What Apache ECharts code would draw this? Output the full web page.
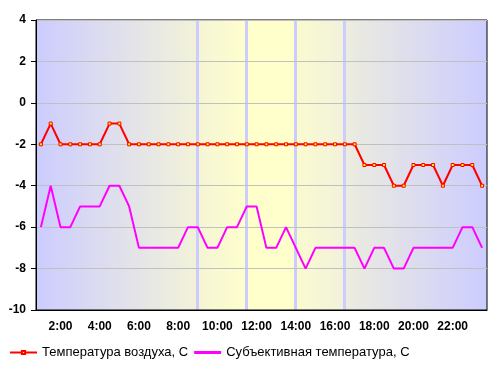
<!DOCTYPE html>
<html>
<head>
<meta charset="utf-8">
<script src="https://cdn.jsdelivr.net/npm/echarts@6/dist/echarts.min.js"></script>
<style>
  html, body { margin: 0; padding: 0; background: #fff; }
  #chart { width: 499px; height: 366px; }
</style>
</head>
<body>
<div id="chart"></div>
<script>
// half-hour readings, 1:00 .. 23:30
const times = [
  '1:00', '1:30', '2:00', '2:30', '3:00', '3:30', '4:00', '4:30', '5:00', '5:30',
  '6:00', '6:30', '7:00', '7:30', '8:00', '8:30', '9:00', '9:30', '10:00', '10:30',
  '11:00', '11:30', '12:00', '12:30', '13:00', '13:30', '14:00', '14:30', '15:00', '15:30',
  '16:00', '16:30', '17:00', '17:30', '18:00', '18:30', '19:00', '19:30', '20:00', '20:30',
  '21:00', '21:30', '22:00', '22:30', '23:00', '23:30'
]
const airTemp = [
  -2, -1, -2, -2, -2, -2, -2, -1, -1, -2,
  -2, -2, -2, -2, -2, -2, -2, -2, -2, -2,
  -2, -2, -2, -2, -2, -2, -2, -2, -2, -2,
  -2, -2, -2, -3, -3, -3, -4, -4, -3, -3,
  -3, -4, -3, -3, -3, -4
]
const feelsTemp = [
  -6, -4, -6, -6, -5, -5, -5, -4, -4, -5,
  -7, -7, -7, -7, -7, -6, -6, -7, -7, -6,
  -6, -5, -5, -7, -7, -6, -7, -8, -7, -7,
  -7, -7, -7, -8, -7, -7, -8, -8, -7, -7,
  -7, -7, -7, -6, -6, -7
]
const seriesNames = ['Температура воздуха, С', 'Субъективная температура, С']

const font = 'Arial, "Liberation Sans", sans-serif'
const chart = echarts.init(document.getElementById('chart'))

// background: blue at night, yellow by day, thin lavender stripes at 9:00, 11:30, 14:00, 16:30
const stripe = '#ccccff'
const bg = new echarts.graphic.LinearGradient(0, 0, 1, 0, [
  { offset: 0, color: '#ccccff' },
  { offset: 0.3548, color: '#f2f2da' },
  { offset: 0.3549, color: stripe },
  { offset: 0.3614, color: stripe },
  { offset: 0.3615, color: '#f5f5d5' },
  { offset: 0.4633, color: '#fefecd' },
  { offset: 0.4634, color: stripe },
  { offset: 0.4701, color: stripe },
  { offset: 0.4702, color: '#ffffcc' },
  { offset: 0.5720, color: '#ffffcc' },
  { offset: 0.5721, color: stripe },
  { offset: 0.5787, color: stripe },
  { offset: 0.5788, color: '#fafad0' },
  { offset: 0.6806, color: '#f2f2da' },
  { offset: 0.6807, color: stripe },
  { offset: 0.6874, color: stripe },
  { offset: 0.6875, color: '#ececdf' },
  { offset: 1, color: '#ccccff' }
])

chart.setOption({
  animation: false,
  textStyle: { fontFamily: font },
  grid: {
    left: 36, right: 12, top: 20, bottom: 56,
    show: true,
    borderColor: '#000',
    borderWidth: 1,
    backgroundColor: bg
  },
  legend: {
    left: 4,
    top: 341,
    itemWidth: 27,
    itemHeight: 4,
    itemGap: 6,
    textStyle: { fontSize: 13, color: '#000', fontFamily: font },
    data: [
      { name: seriesNames[0] },
      { name: seriesNames[1], icon: 'path://M0,0H27V3H0Z' }
    ]
  },
  xAxis: {
    type: 'category',
    data: times,
    boundaryGap: true,
    axisLine: { onZero: false, lineStyle: { color: '#000', width: 1 } },
    axisTick: {
      length: 5,
      lineStyle: { color: '#000' },
      interval: (i) => i % 2 === 0
    },
    axisLabel: {
      interval: (i) => i % 4 === 2,
      margin: 11,
      color: '#000',
      fontWeight: 'bold',
      fontSize: 12,
      fontFamily: font
    },
    splitLine: { show: false }
  },
  yAxis: {
    type: 'value',
    min: -10,
    max: 4,
    interval: 2,
    axisLine: { show: true, lineStyle: { color: '#000' } },
    axisTick: { show: true, length: 5, lineStyle: { color: '#000' } },
    axisLabel: {
      margin: 10,
      color: '#000',
      fontWeight: 'bold',
      fontSize: 12,
      fontFamily: font
    },
    splitLine: { lineStyle: { color: '#c0c0c0', width: 1 } }
  },
  series: [
    {
      name: seriesNames[0],
      type: 'line',
      z: 3,
      data: airTemp,
      symbol: 'rect',
      symbolSize: 3,
      itemStyle: { color: '#ffff00', borderColor: '#ff0000', borderWidth: 1 },
      lineStyle: { color: '#ff0000', width: 2 }
    },
    {
      name: seriesNames[1],
      type: 'line',
      z: 2,
      data: feelsTemp,
      symbol: 'none',
      itemStyle: { color: '#ff00ff' },
      lineStyle: { color: '#ff00ff', width: 2 }
    }
  ]
})
</script>
</body>
</html>
